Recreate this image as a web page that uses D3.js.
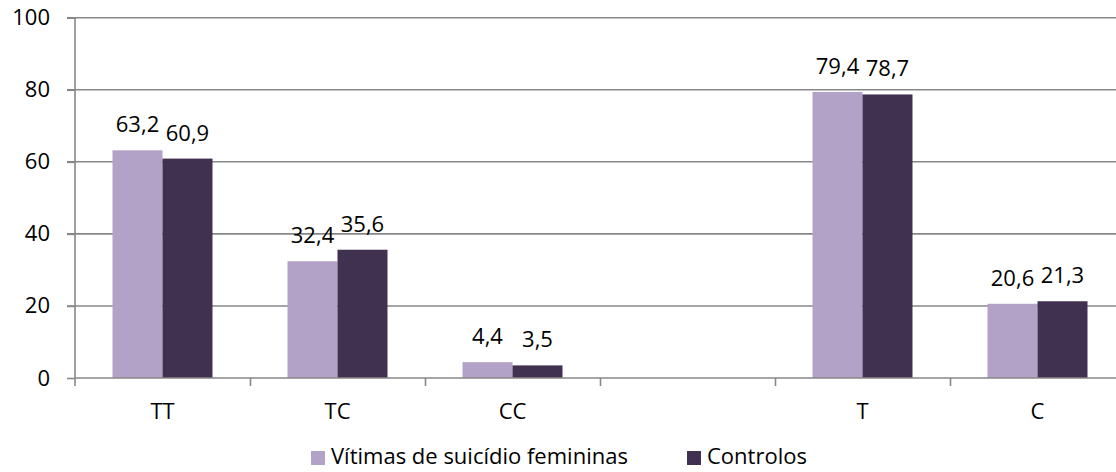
<!DOCTYPE html>
<html>
<head>
<meta charset="utf-8">
<script src="https://cdn.jsdelivr.net/npm/d3@7"></script>
<style>
  body { margin: 0; background: #fff; }
  svg { display: block; font-family: "Open Sans", sans-serif; }
</style>
</head>
<body>
<script>
const categories = ['TT', 'TC', 'CC', ' ', 'T', 'C']
const series = ['Vítimas de suicídio femininas', 'Controlos']
const vitimas = [63.2, 32.4, 4.4, null, 79.4, 20.6]
const controlos = [60.9, 35.6, 3.5, null, 78.7, 21.3]
const yTicks = [0, 20, 40, 60, 80, 100]

const w = 1116
const h = 472
const padLeft = 75
const padRight = 1125
const padTop = 17.7
const padBottom = 378
const fs = 22

const colors = ['#B3A2C7', '#403151']
const grey = '#878787'

const fmt = v => String(v).replace('.', ',')

const data = categories.map((c, i) => ({
  cat: c,
  vals: [vitimas[i], controlos[i]]
}))

const svg = d3.select('body')
              .append('svg')
              .attr('width', w)
              .attr('height', h)

const x0 = d3.scaleBand()
             .domain(categories)
             .range([padLeft, padRight])

const x1 = d3.scaleBand()
             .domain([0, 1])
             .range([x0.bandwidth() * 0.2143, x0.bandwidth() * 0.7857])

const yScale = d3.scaleLinear()
                 .domain([0, 100])
                 .range([padBottom, padTop])

// gridlines
svg.append('g')
  .selectAll('line')
  .data(yTicks.filter(t => t > 0))
  .enter()
  .append('line')
  .attr('x1', padLeft - 8)
  .attr('x2', padRight)
  .attr('y1', d => yScale(d))
  .attr('y2', d => yScale(d))
  .attr('stroke', grey)
  .attr('stroke-width', 1.6)

// bars
const groups = svg.append('g')
  .selectAll('g')
  .data(data)
  .enter()
  .append('g')
  .attr('transform', d => 'translate(' + x0(d.cat) + ',0)')

groups.selectAll('rect')
  .data(d => d.vals.map((v, k) => ({k: k, v: v})).filter(e => e.v !== null))
  .enter()
  .append('rect')
  .attr('x', d => x1(d.k))
  .attr('width', x1.bandwidth())
  .attr('y', d => yScale(d.v))
  .attr('height', d => yScale(0) - yScale(d.v))
  .attr('fill', d => colors[d.k])

groups.selectAll('text')
  .data(d => d.vals.map((v, k) => ({k: k, v: v})).filter(e => e.v !== null))
  .enter()
  .append('text')
  .attr('x', d => x1(d.k) + x1.bandwidth() / 2)
  .attr('y', d => yScale(d.v) - 18)
  .attr('text-anchor', 'middle')
  .attr('font-size', fs)
  .attr('fill', '#000')
  .text(d => fmt(d.v))

// y axis
const yAxis = d3.axisLeft(yScale)
                .tickValues(yTicks)
                .tickSize(8)
                .tickPadding(17)

svg.append('g')
  .attr('class', 'y-axis')
  .attr('transform', 'translate(' + padLeft + ',0)')
  .call(yAxis)
  .call(g => g.selectAll('path').attr('stroke', grey).attr('stroke-width', 1.6)
    .attr('d', 'M0,' + padTop + 'V' + (padBottom + 8)))
  .call(g => g.selectAll('line').attr('stroke', grey).attr('stroke-width', 1.6))
  .call(g => g.selectAll('text').attr('font-size', fs).attr('fill', '#000')
    .attr('font-family', '"Open Sans", sans-serif'))

// x axis ticks at category boundaries
const xEdges = d3.scaleLinear().domain([0, categories.length]).range([padLeft, padRight])

svg.append('g')
  .attr('class', 'x-axis')
  .attr('transform', 'translate(0,' + padBottom + ')')
  .call(d3.axisBottom(xEdges).tickValues(d3.range(1, categories.length + 1)).tickSize(8).tickFormat(''))
  .call(g => g.selectAll('path').attr('stroke', grey).attr('stroke-width', 1.6)
    .attr('d', 'M' + padLeft + ',0H' + padRight))
  .call(g => g.selectAll('line').attr('stroke', grey).attr('stroke-width', 1.6))

svg.append('g')
  .attr('transform', 'translate(0,' + padBottom + ')')
  .call(d3.axisBottom(x0).tickSize(0).tickPadding(25))
  .call(g => g.select('path').remove())
  .call(g => g.selectAll('text').attr('font-size', fs).attr('fill', '#000')
    .attr('font-family', '"Open Sans", sans-serif'))

// legend
const legendX = [311, 687]
const legend = svg.append('g')
  .selectAll('g')
  .data(series)
  .enter()
  .append('g')
  .attr('transform', (d, i) => 'translate(' + legendX[i] + ',464)')

legend.append('rect')
  .attr('x', 0)
  .attr('y', -13)
  .attr('width', 14)
  .attr('height', 14)
  .attr('fill', (d, i) => colors[i])

legend.append('text')
  .attr('x', 20)
  .attr('y', 0)
  .attr('font-size', fs)
  .attr('fill', '#000')
  .text(d => d)
</script>
</body>
</html>
